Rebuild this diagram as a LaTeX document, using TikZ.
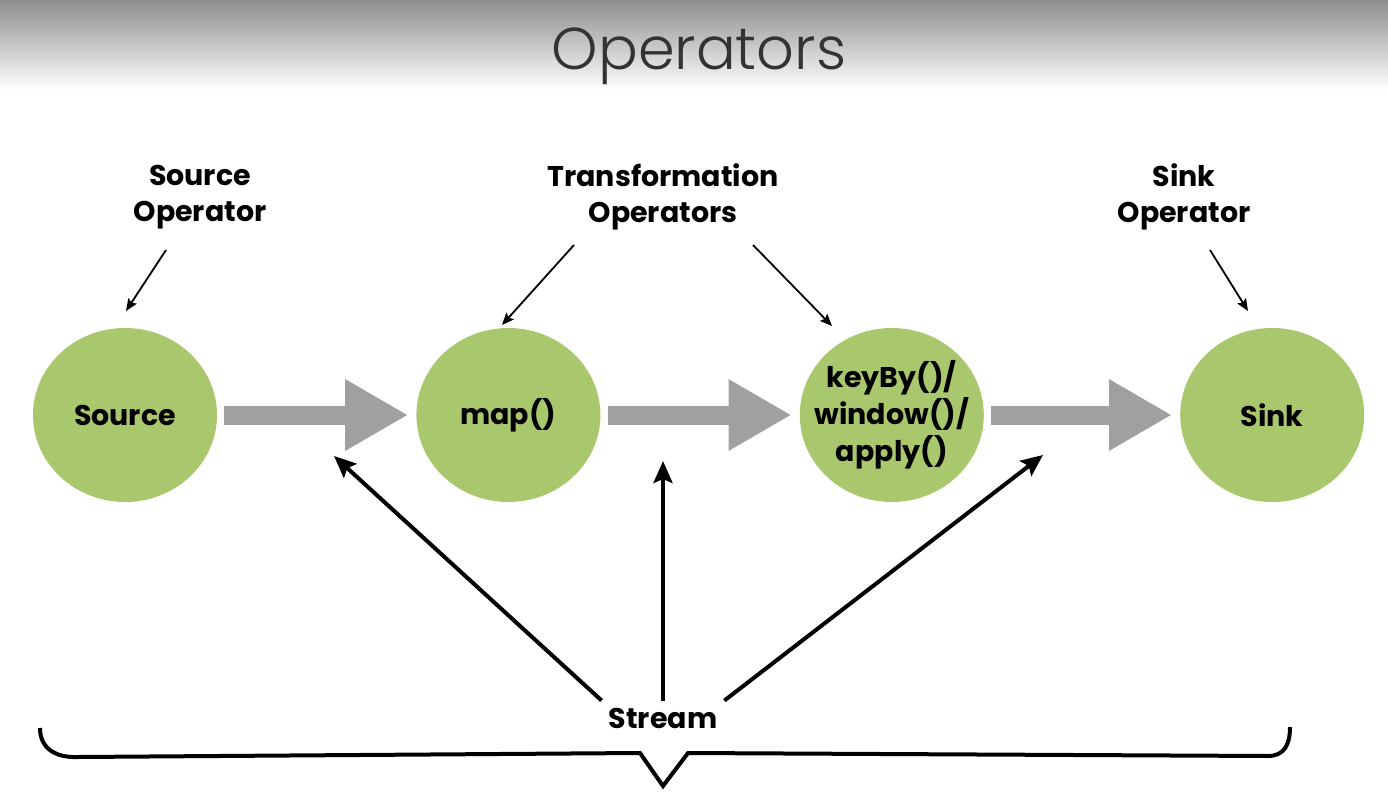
\documentclass[tikz,border=0pt]{standalone}
\usepackage{fontspec}
\setmainfont{Poppins}
\newfontfamily\titlefont{Poppins}[UprightFont=* Light]
\usetikzlibrary{positioning, arrows.meta, shapes.geometric}
\definecolor{opgreen}{RGB}{169,200,110}
\definecolor{flowgray}{RGB}{160,160,160}
\definecolor{bandgray}{RGB}{142,142,142}
\tikzset{main node/.style={ellipse, fill=opgreen, minimum width=184pt, minimum height=174pt, inner sep=-20pt, align=center, font=\fontsize{28.5}{37}\selectfont\bfseries},
  label node/.style={align=center, font=\fontsize{28.5}{36}\selectfont\bfseries},
  flow arrow/.style={draw=flowgray, line width=19pt, -{Triangle[length=63pt, width=67pt]}, shorten <=7pt, shorten >=8pt},
  note arrow/.style={line width=1.8pt, -{Stealth[length=12pt, width=10pt, inset=2pt]}},
  stream arrow/.style={line width=4pt, -{Stealth[length=22pt, width=19pt, inset=4pt]}},}

\begin{document}
\begin{tikzpicture}[x=1pt, y=-1pt]
        \useasboundingbox (0,0) rectangle (1388,799);
        % Title
        \shade[top color=bandgray, bottom color=white] (0,0) rectangle (1388,90);
        \node[text=black!80, font=\titlefont\fontsize{59}{70}\selectfont] (0) at (699,56) {Operators};
        % Operators
        \node[main node] (1) at (125,415) {Source};
        \node[main node] [right = 199pt of 1] (2) {map()};
        \node[main node] [right = 199pt of 2] (3) {keyBy()/\\window()/\\apply()};
        \node[main node] [right = 196pt of 3] (4) {Sink};
        % Labels
        \node[label node] (5) at (200,197) {Source\\Operator};
        \node[label node] (6) at (663,197) {Transformation\\Operators};
        \node[label node] (7) at (1184,197) {Sink\\Operator};
        \node[label node, inner sep=7pt] (8) at (663,718) {Stream};
        % Ends of the pointers
        \coordinate (s1) at (166,250);
        \coordinate (e1) at (126,311);
        \coordinate (s2) at (574,245);
        \coordinate (e2) at (502,325);
        \coordinate (s3) at (753,245);
        \coordinate (e3) at (832,326);
        \coordinate (s4) at (1210,250);
        \coordinate (e4) at (1248,311);
        \coordinate (t1) at (334,456);
        \coordinate (t2) at (663,461);
        \coordinate (t3) at (1043,455);
        % Paths
        \draw[flow arrow] (1) -- (2);
        \draw[flow arrow] (2) -- (3);
        \draw[flow arrow] (3) -- (4);
        \draw[note arrow] (s1) -- (e1);
        \draw[note arrow] (s2) -- (e2);
        \draw[note arrow] (s3) -- (e3);
        \draw[note arrow] (s4) -- (e4);
        \draw[stream arrow] (8.north west) -- (t1);
        \draw[stream arrow] (8.north) -- (t2);
        \draw[stream arrow] (8.north east) -- (t3);
        % Brace
        \draw[line width=4pt, line join=miter] (40,728) .. controls (40,748) and (55,758) .. (78,757) -- (640,753) -- (663,786) -- (688,753) -- (1268,756) .. controls (1284,756) and (1290,745) .. (1290,727);
    \end{tikzpicture}
\end{document}
